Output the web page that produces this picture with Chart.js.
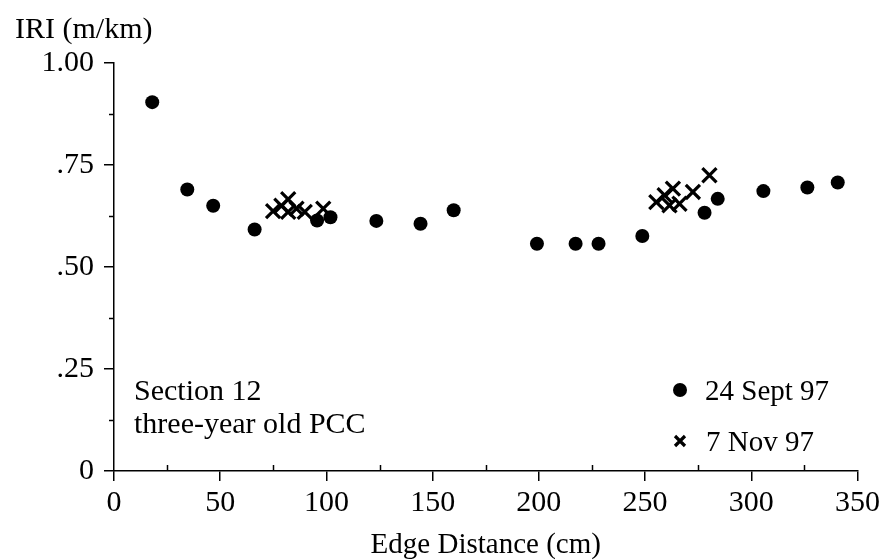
<!DOCTYPE html>
<html><head><meta charset="utf-8">
<script src="https://cdn.jsdelivr.net/npm/chart.js@4/dist/chart.umd.min.js"></script>
<style>html,body{margin:0;padding:0;background:#fff}#wrap{width:884px;height:560px}</style>
</head><body><div id="wrap"><canvas id="c" width="884" height="560"></canvas></div>
<script>
// 24 Sept 97 (filled circles)
const septDistance = [18, 34.5, 46.7, 66.2, 95.6, 101.9, 123.5, 144.3, 159.9, 199.1, 217.3, 228.1, 248.7, 278.0, 284.2, 305.7, 326.4, 340.7];
const septIRI      = [0.904, 0.690, 0.650, 0.592, 0.614, 0.622, 0.613, 0.606, 0.639, 0.557, 0.557, 0.557, 0.576, 0.633, 0.667, 0.686, 0.695, 0.707];
// 7 Nov 97 (crosses)
const novDistance = [74.9, 78.8, 82.0, 82.0, 85.9, 89.8, 98.5, 255.3, 259.2, 263.1, 261.5, 266.2, 272.5, 280.3];
const novIRI      = [0.637, 0.650, 0.666, 0.635, 0.643, 0.635, 0.643, 0.659, 0.676, 0.692, 0.651, 0.655, 0.684, 0.725];
const yTickLabels = {0: '0', 0.25: '.25', 0.5: '.50', 0.75: '.75', 1: '1.00'};
const seriesNames = ['24 Sept 97', '7 Nov 97'];
const noteLines = ['Section 12', 'three-year old PCC'];
const yAxisTitle = 'IRI (m/km)';
const xAxisTitle = 'Edge Distance (cm)';

const FONT = 'Liberation Serif';
const toPts = (xs, ys) => xs.map((x, i) => ({x, y: ys[i]}));

const decor = {
  id: 'decor',
  afterDraw(chart) {
    const ctx = chart.ctx, xs = chart.scales.x, ys = chart.scales.y, ca = chart.chartArea;
    ctx.save();
    ctx.strokeStyle = '#000'; ctx.lineWidth = 1.5;
    // minor x ticks (inward)
    for (let v = 25; v < 350; v += 50) {
      const px = Math.round(xs.getPixelForValue(v)) + 0.5;
      ctx.beginPath(); ctx.moveTo(px, ca.bottom); ctx.lineTo(px, ca.bottom - 6); ctx.stroke();
    }
    // minor y ticks (outward)
    for (let v = 0.125; v < 1; v += 0.25) {
      const py = Math.round(ys.getPixelForValue(v)) + 0.5;
      ctx.beginPath(); ctx.moveTo(ca.left, py); ctx.lineTo(ca.left - 5, py); ctx.stroke();
    }
    ctx.fillStyle = '#000';
    ctx.font = '30px "' + FONT + '"';
    ctx.textBaseline = 'alphabetic';
    ctx.textAlign = 'left';
    ctx.fillText(yAxisTitle, 15, 38);
    ctx.fillText(noteLines[0], 134, 400);
    ctx.fillText(noteLines[1], 134, 433);
    // legend
    ctx.font = '29px "' + FONT + '"';
    ctx.beginPath(); ctx.arc(680, 390, 7, 0, Math.PI * 2); ctx.fill();
    ctx.fillText(seriesNames[0], 705, 400);
    ctx.lineWidth = 3.2;
    ctx.beginPath();
    ctx.moveTo(675, 436); ctx.lineTo(685, 446);
    ctx.moveTo(685, 436); ctx.lineTo(675, 446);
    ctx.stroke();
    ctx.fillText(seriesNames[1], 706, 451);
    ctx.restore();
  }
};

new Chart(document.getElementById('c'), {
  type: 'scatter',
  data: {
    datasets: [
      {label: seriesNames[0], data: toPts(septDistance, septIRI), pointStyle: 'circle', pointRadius: 7, backgroundColor: '#000', borderColor: '#000', borderWidth: 0},
      {label: seriesNames[1], data: toPts(novDistance, novIRI), pointStyle: 'crossRot', pointRadius: 10, backgroundColor: '#000', borderColor: '#000', borderWidth: 3.2}
    ]
  },
  options: {
    responsive: false, animation: false, devicePixelRatio: 1,
    layout: {padding: {left: 0, top: 63, right: 26, bottom: 0}},
    plugins: {legend: {display: false}, tooltip: {enabled: false}},
    scales: {
      x: {
        type: 'linear', min: 0, max: 350,
        ticks: {stepSize: 50, color: '#000', font: {family: FONT, size: 30}, padding: 4, maxRotation: 0},
        grid: {drawOnChartArea: false, drawTicks: true, tickLength: 10, color: '#000', lineWidth: 1.5},
        border: {display: true, color: '#000', width: 1.5},
        title: {display: true, text: xAxisTitle, color: '#000', font: {family: FONT, size: 29, lineHeight: 1.0}, padding: {top: 0, bottom: 0}},
        afterFit: s => { s.height = 89; }
      },
      y: {
        min: 0, max: 1,
        ticks: {stepSize: 0.25, color: '#000', font: {family: FONT, size: 30}, padding: 10, callback: v => yTickLabels[v] ?? ''},
        grid: {drawOnChartArea: false, drawTicks: true, tickLength: 10, color: '#000', lineWidth: 1.5},
        border: {display: true, color: '#000', width: 1.5},
        afterFit: s => { s.width = 114; }
      }
    }
  },
  plugins: [decor]
});
</script></body></html>
